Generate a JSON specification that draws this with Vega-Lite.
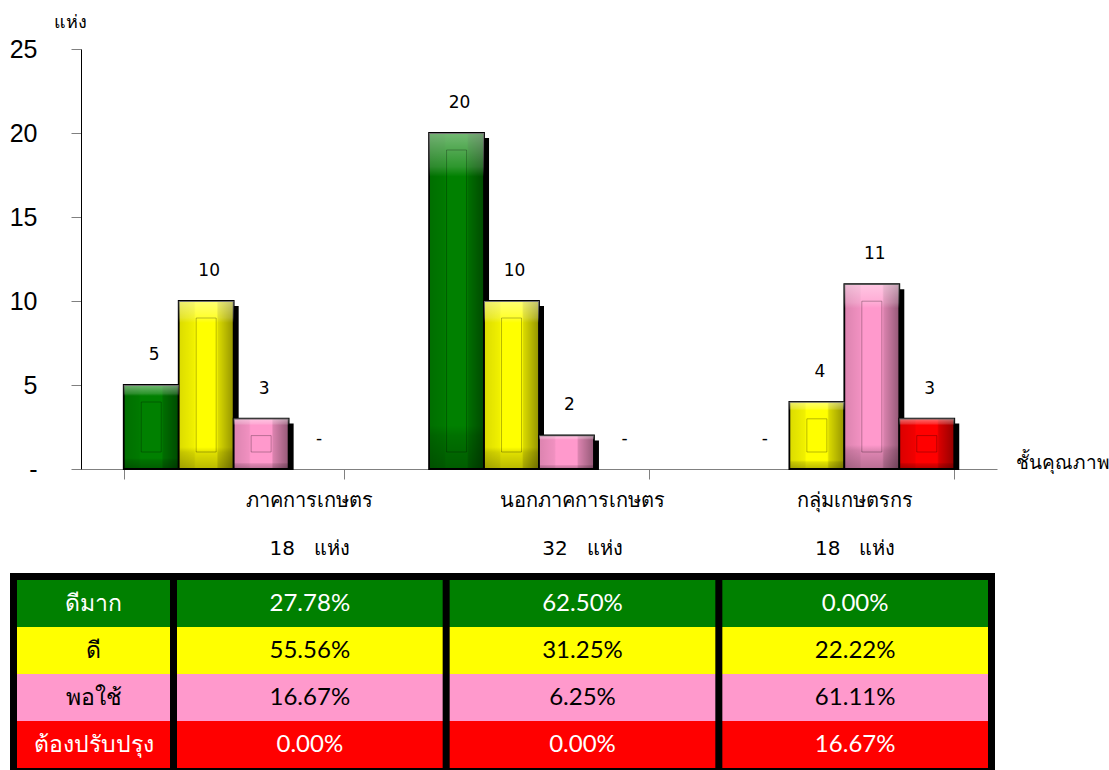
{
  "$schema": "https://vega.github.io/schema/vega-lite/v6.json",
  "width": 916,
  "height": 420,
  "autosize": "none",
  "padding": {"left": 81, "top": 49, "right": 112, "bottom": 301},
  "background": "white",
  "config": {"view": {"stroke": null}, "font": "DejaVu Sans"},
  "datasets": {
    "grades": [
      {"group": "ภาคการเกษตร", "grade": "ดีมาก", "count": 5},
      {"group": "ภาคการเกษตร", "grade": "ดี", "count": 10},
      {"group": "ภาคการเกษตร", "grade": "พอใช้", "count": 3},
      {"group": "ภาคการเกษตร", "grade": "ต้องปรับปรุง", "count": 0},
      {"group": "นอกภาคการเกษตร", "grade": "ดีมาก", "count": 20},
      {"group": "นอกภาคการเกษตร", "grade": "ดี", "count": 10},
      {"group": "นอกภาคการเกษตร", "grade": "พอใช้", "count": 2},
      {"group": "นอกภาคการเกษตร", "grade": "ต้องปรับปรุง", "count": 0},
      {"group": "กลุ่มเกษตรกร", "grade": "ดีมาก", "count": 0},
      {"group": "กลุ่มเกษตรกร", "grade": "ดี", "count": 4},
      {"group": "กลุ่มเกษตรกร", "grade": "พอใช้", "count": 11},
      {"group": "กลุ่มเกษตรกร", "grade": "ต้องปรับปรุง", "count": 3}
    ]
  },
  "data": {"name": "grades"},
  "resolve": {
    "scale": {"x": "independent", "y": "independent", "xOffset": "independent"},
    "axis": {"x": "independent", "y": "independent"}
  },
  "layer": [
    {
      "transform": [{"filter": "datum.count > 0"}],
      "mark": {"type": "bar", "color": "black", "yOffset": 5, "y2Offset": 1},
      "encoding": {
        "x": {"field": "group", "type": "nominal", "sort": ["ภาคการเกษตร", "นอกภาคการเกษตร", "กลุ่มเกษตรกร"], "scale": {"paddingInner": 0.28, "paddingOuter": 0.14}, "axis": null},
        "xOffset": {"field": "grade", "type": "nominal", "sort": ["ดีมาก", "ดี", "พอใช้", "ต้องปรับปรุง"], "scale": {"range": [5, 224.84], "paddingInner": 0, "paddingOuter": 0}},
        "y": {"field": "count", "type": "quantitative", "scale": {"domain": [0, 25]}, "axis": null},
        "y2": {"datum": 0}
      }
    },
    {
      "encoding": {
        "x": {
          "field": "group", "type": "nominal", "sort": ["ภาคการเกษตร", "นอกภาคการเกษตร", "กลุ่มเกษตรกร"],
          "scale": {"paddingInner": 0.28, "paddingOuter": 0.14},
          "axis": {
            "labels": false, "tickBand": "extent", "tickSize": 10, "tickColor": "#808080", "domainColor": "#808080",
            "title": "ชั้นคุณภาพ", "titleX": 934, "titleY": -7, "titleAlign": "left", "titleBaseline": "middle",
            "titleFontSize": 19, "titleFontWeight": "normal", "titleColor": "black", "titleFont": "DejaVu Sans"
          }
        },
        "xOffset": {"field": "grade", "type": "nominal", "sort": ["ดีมาก", "ดี", "พอใช้", "ต้องปรับปรุง"], "scale": {"paddingInner": 0, "paddingOuter": 0}},
        "y": {
          "field": "count", "type": "quantitative", "scale": {"domain": [0, 25]},
          "axis": {
            "values": [0, 5, 10, 15, 20, 25], "grid": false, "labelExpr": "datum.value == 0 ? '-\u00a0\u00a0' : datum.label",
            "labelFontSize": 25, "labelFont": "Liberation Sans", "labelColor": "black", "labelPadding": 34,
            "tickSize": 10, "tickColor": "#808080", "domainColor": "black",
            "title": "แห่ง", "titleAngle": 0, "titleX": -11, "titleY": -27, "titleAlign": "center", "titleBaseline": "middle",
            "titleFontSize": 18, "titleFontWeight": "normal", "titleColor": "black", "titleFont": "DejaVu Sans"
          }
        },
        "y2": {"datum": 0}
      },
      "layer": [
        {
          "transform": [{"filter": "datum.count > 0"}],
          "mark": {"type": "bar", "stroke": "black", "strokeWidth": 1.8},
          "encoding": {
            "color": {"field": "grade", "type": "nominal", "scale": {"domain": ["ดีมาก", "ดี", "พอใช้", "ต้องปรับปรุง"], "range": ["#008000", "#FFFF00", "#FF99CC", "#FF0000"]}, "legend": null}
          }
        },
        {
          "transform": [{"filter": "datum.count > 0"}],
          "mark": {"type": "bar", "fill": {"gradient": "linear", "x1": 0, "y1": 0, "x2": 1, "y2": 0, "stops": [
            {"offset": 0, "color": "rgba(0,0,0,0.14)"}, {"offset": 0.28, "color": "rgba(0,0,0,0.06)"},
            {"offset": 0.31, "color": "rgba(0,0,0,0)"}, {"offset": 0.69, "color": "rgba(0,0,0,0)"},
            {"offset": 0.72, "color": "rgba(0,0,0,0.15)"}, {"offset": 1, "color": "rgba(0,0,0,0.42)"}]}},
          "encoding": {}
        },
        {
          "transform": [{"filter": "datum.count > 0"}],
          "mark": {"type": "bar", "fill": {"gradient": "linear", "x1": 0, "y1": 0, "x2": 0, "y2": 1, "stops": [
            {"offset": 0, "color": "rgba(255,255,255,0.45)"}, {"offset": 0.1, "color": "rgba(255,255,255,0.18)"},
            {"offset": 0.13, "color": "rgba(255,255,255,0)"}, {"offset": 0.87, "color": "rgba(0,0,0,0)"},
            {"offset": 0.9, "color": "rgba(0,0,0,0.12)"}, {"offset": 1, "color": "rgba(0,0,0,0.28)"}]}},
          "encoding": {}
        },
        {
          "mark": {"type": "text", "baseline": "middle", "align": "center", "dy": -30, "dx": 3, "fontSize": 17, "font": "DejaVu Sans", "color": "black"},
          "encoding": {
            "y2": null,
            "text": {"condition": {"test": "datum.count == 0", "value": "-"}, "field": "count", "type": "quantitative"}
          }
        }
      ]
    },
    {
      "transform": [{"filter": "datum.count >= 3"}],
      "mark": {"type": "bar", "yOffset": 17, "y2Offset": -17, "fill": "transparent", "stroke": "rgba(0,0,0,0.28)", "strokeWidth": 1},
      "encoding": {
        "x": {"field": "group", "type": "nominal", "sort": ["ภาคการเกษตร", "นอกภาคการเกษตร", "กลุ่มเกษตรกร"], "scale": {"paddingInner": 0.28, "paddingOuter": 0.14}, "axis": null},
        "xOffset": {"field": "grade", "type": "nominal", "sort": ["ดีมาก", "ดี", "พอใช้", "ต้องปรับปรุง"], "scale": {"paddingInner": 0.636, "paddingOuter": 0.318}},
        "y": {"field": "count", "type": "quantitative", "scale": {"domain": [0, 25]}, "axis": null},
        "y2": {"datum": 0}
      }
    },
    {
      "transform": [
        {"joinaggregate": [{"op": "sum", "field": "count", "as": "total"}], "groupby": ["group"]},
        {"calculate": "datum.count / datum.total", "as": "pct"}
      ],
      "encoding": {
        "x": {
          "field": "group", "type": "nominal", "sort": ["ภาคการเกษตร", "นอกภาคการเกษตร", "กลุ่มเกษตรกร"],
          "scale": {"range": [96, 907], "paddingInner": 0.0257, "paddingOuter": 0}, "axis": null
        }
      },
      "layer": [
        {
          "mark": {"type": "rect", "stroke": "black", "strokeWidth": 14},
          "encoding": {
            "y": {"field": "grade", "type": "nominal", "scale": {"domain": ["h1", "h2", "ดีมาก", "ดี", "พอใช้", "ต้องปรับปรุง"], "range": [437, 719], "paddingInner": 0, "paddingOuter": 0}, "axis": null},
            "color": {"field": "grade", "type": "nominal", "legend": null}
          }
        },
        {
          "mark": {"type": "rect"},
          "encoding": {
            "y": {"field": "grade", "type": "nominal"},
            "color": {"field": "grade", "type": "nominal", "legend": null}
          }
        },
        {
          "mark": {"type": "text", "baseline": "middle", "align": "center", "fontSize": 24, "font": "Lato"},
          "encoding": {
            "y": {"field": "grade", "type": "nominal"},
            "text": {"field": "pct", "type": "quantitative", "format": ".2%"},
            "color": {"condition": {"test": "datum.grade == 'ดีมาก' || datum.grade == 'ต้องปรับปรุง'", "value": "white"}, "value": "black"}
          }
        },
        {
          "transform": [{"filter": "datum.grade == 'ดีมาก'"}],
          "mark": {"type": "text", "baseline": "middle", "align": "center", "fontSize": 20, "font": "DejaVu Sans", "dy": -9, "color": "black"},
          "encoding": {
            "y": {"datum": "h1", "type": "nominal"},
            "text": {"field": "group", "type": "nominal"}
          }
        },
        {
          "transform": [{"filter": "datum.grade == 'ดีมาก'"}, {"calculate": "datum.total + '\u00a0\u00a0 แห่ง'", "as": "totalLabel"}],
          "mark": {"type": "text", "baseline": "middle", "align": "center", "fontSize": 20, "font": "DejaVu Sans", "dy": -8, "color": "black"},
          "encoding": {
            "y": {"datum": "h2", "type": "nominal"},
            "text": {"field": "totalLabel", "type": "nominal"}
          }
        }
      ]
    },
    {
      "transform": [{"filter": "datum.group == 'ภาคการเกษตร'"}],
      "encoding": {
        "x": {"datum": "label", "type": "nominal", "scale": {"domain": ["label"], "range": [-64, 89], "paddingInner": 0, "paddingOuter": 0}, "axis": null},
        "y": {"field": "grade", "type": "nominal", "scale": {"domain": ["h1", "h2", "ดีมาก", "ดี", "พอใช้", "ต้องปรับปรุง"], "range": [437, 719], "paddingInner": 0, "paddingOuter": 0}, "axis": null}
      },
      "layer": [
        {
          "mark": {"type": "rect", "stroke": "black", "strokeWidth": 14},
          "encoding": {"color": {"field": "grade", "type": "nominal", "legend": null}}
        },
        {
          "mark": {"type": "rect"},
          "encoding": {"color": {"field": "grade", "type": "nominal", "legend": null}}
        },
        {
          "mark": {"type": "text", "baseline": "middle", "align": "center", "fontSize": 23, "font": "Lato"},
          "encoding": {
            "text": {"field": "grade", "type": "nominal"},
            "color": {"condition": {"test": "datum.grade == 'ดีมาก' || datum.grade == 'ต้องปรับปรุง'", "value": "white"}, "value": "black"}
          }
        }
      ]
    }
  ]
}
